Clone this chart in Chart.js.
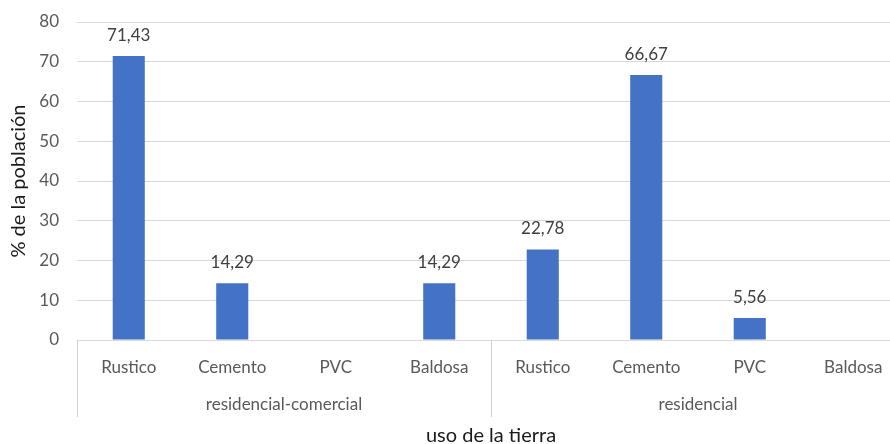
<!DOCTYPE html>
<html>
<head>
<meta charset="utf-8">
<script src="https://cdn.jsdelivr.net/npm/chart.js@4"></script>
<style>
  html, body { margin: 0; padding: 0; background: #fff; overflow: hidden; }
  #wrap { width: 910px; height: 444px; }
</style>
</head>
<body>
<div id="wrap"><canvas id="myChart1" width="910" height="444"></canvas></div>
<script>
// datos ========================================================
const categorias = ["Rustico", "Cemento", "PVC", "Baldosa", "Rustico", "Cemento", "PVC", "Baldosa"];
const grupos = ["residencial-comercial", "residencial"];
const porcentajes = [71.43, 14.29, null, 14.29, 22.78, 66.67, 5.56, null];
const yTicks = [0, 10, 20, 30, 40, 50, 60, 70, 80];

const FONT = "Lato, 'Liberation Sans', sans-serif";

// etiquetas de valor, grupos y lineas del eje x
const extras = {
  id: "extras",
  afterDatasetsDraw(chart) {
    const ctx = chart.ctx;
    const x = chart.scales.x;
    const meta = chart.getDatasetMeta(0);
    ctx.save();
    ctx.font = "17px " + FONT;
    ctx.fillStyle = "#404040";
    ctx.textAlign = "center";
    ctx.textBaseline = "bottom";
    meta.data.forEach(function (bar, i) {
      const v = porcentajes[i];
      if (v === null) return;
      ctx.fillText(v.toFixed(2).replace(".", ","), bar.x, bar.y - 12);
    });

    // separadores
    const top = x.top;
    const bottom = x.top + 77;
    const sep = (x.getPixelForValue(3) + x.getPixelForValue(4)) / 2;
    ctx.strokeStyle = "#d0d0d0";
    ctx.lineWidth = 1;
    ctx.beginPath();
    ctx.moveTo(chart.chartArea.left + 0.5, top);
    ctx.lineTo(chart.chartArea.left + 0.5, bottom);
    ctx.moveTo(Math.round(sep) + 0.5, top);
    ctx.lineTo(Math.round(sep) + 0.5, bottom);
    ctx.stroke();

    // nombres de grupo
    ctx.fillStyle = "#595959";
    ctx.textBaseline = "middle";
    ctx.fillText(grupos[0], (chart.chartArea.left + sep) / 2, top + 65);
    ctx.fillText(grupos[1], (sep + chart.chartArea.right) / 2, top + 65);
    ctx.restore();
  },
};

const data = {
  labels: categorias,
  datasets: [
    {
      label: "% de la población",
      data: porcentajes,
      backgroundColor: "#4472C4",
      barPercentage: 0.31,
      categoryPercentage: 1,
    },
  ],
};

const config = {
  type: "bar",
  data: data,
  plugins: [extras],
  options: {
    responsive: false,
    animation: false,
    layout: { autoPadding: false, padding: { top: 22, right: 5, left: 0, bottom: 0 } },
    plugins: {
      legend: { display: false },
      tooltip: { enabled: false },
    },
    scales: {
      x: {
        grid: { display: false },
        border: { display: true, color: "#d9d9d9" },
        ticks: {
          font: { size: 17, family: FONT },
          color: "#595959",
          padding: 9,
          maxRotation: 0,
          autoSkip: false,
        },
        title: {
          display: true,
          text: "uso de la tierra",
          font: { size: 20, family: FONT },
          color: "#1a1a1a",
          padding: { top: 0, bottom: -4 },
        },
        afterFit: function (scale) {
          scale.height = 104;
        },
      },
      y: {
        min: 0,
        max: 80,
        afterBuildTicks: function (scale) {
          scale.ticks = yTicks.map(function (v) { return { value: v }; });
        },
        grid: { color: "#d9d9d9", drawTicks: true, tickLength: 15, tickColor: "rgba(0,0,0,0)" },
        border: { display: false },
        ticks: {
          font: { size: 17, family: FONT },
          color: "#595959",
          padding: 3,
        },
        title: {
          display: true,
          text: "% de la población",
          font: { size: 20, family: FONT },
          color: "#1a1a1a",
          padding: { top: 7, bottom: 0 },
        },
        afterFit: function (scale) {
          scale.width = 77;
        },
      },
    },
  },
};

const myChart = new Chart(document.getElementById("myChart1"), config);
</script>
</body>
</html>
